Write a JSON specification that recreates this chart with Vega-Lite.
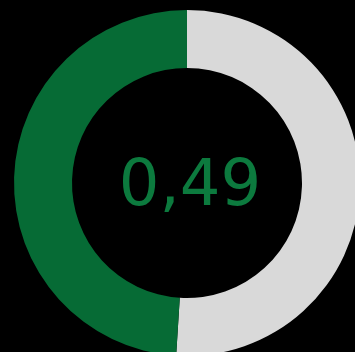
{
  "$schema": "https://vega.github.io/schema/vega-lite/v6.json",
  "width": 374,
  "height": 366,
  "padding": 0,
  "autosize": {"type": "none"},
  "background": "#000000",
  "view": {"stroke": null},
  "data": {"values": [
    {"part": "rest", "value": 0.51, "ord": 1, "label": "0,49"},
    {"part": "score", "value": 0.49, "ord": 2, "label": "0,49"}
  ]},
  "layer": [
    {
      "mark": {"type": "arc", "radius": 173, "innerRadius": 115},
      "encoding": {
        "theta": {"field": "value", "type": "quantitative", "stack": true},
        "order": {"field": "ord", "type": "quantitative"},
        "color": {"field": "part", "type": "nominal", "scale": {"domain": ["rest", "score"], "range": ["#d9d9d9", "#066b35"]}, "legend": null}
      }
    },
    {
      "transform": [{"filter": "datum.part === 'score'"}],
      "mark": {"type": "text", "font": "DejaVu Sans", "fontSize": 64, "color": "#0c7a3e", "align": "center", "baseline": "middle", "dx": 3, "dy": 3},
      "encoding": {"text": {"field": "label", "type": "nominal"}}
    }
  ]
}
